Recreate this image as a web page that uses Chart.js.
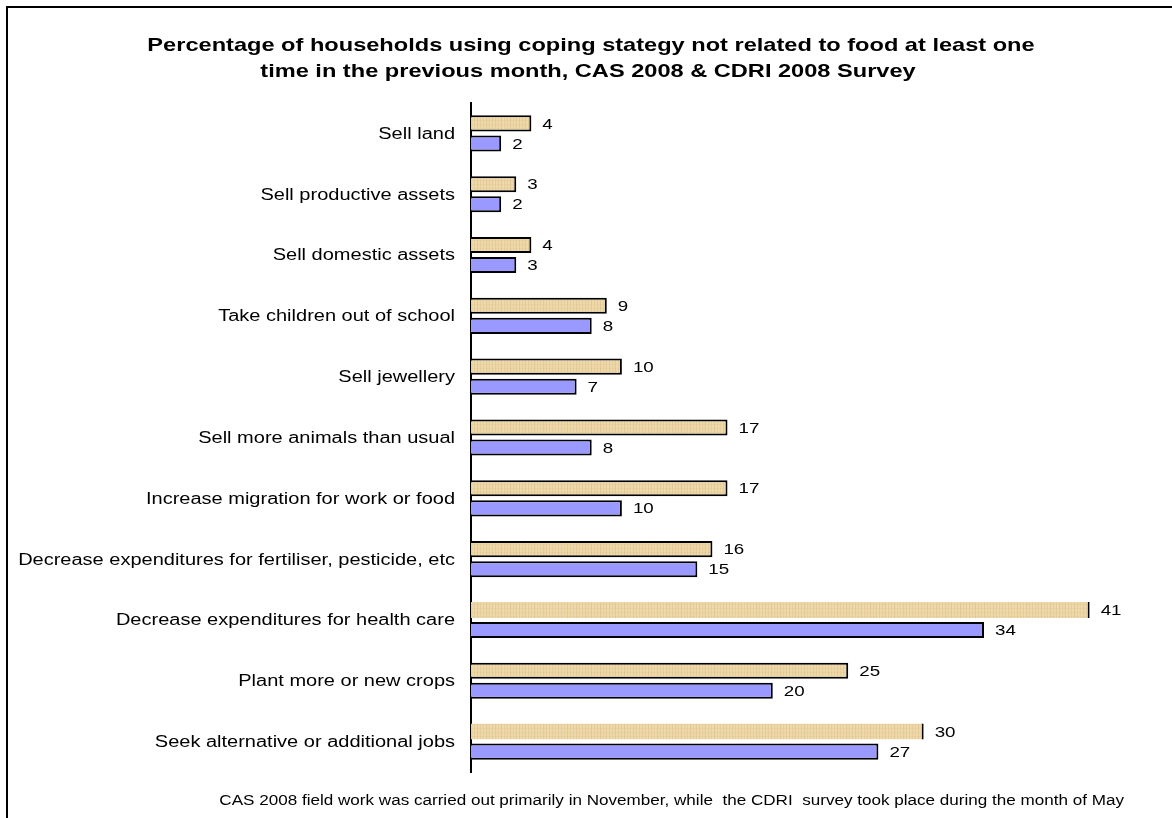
<!DOCTYPE html>
<html>
<head>
<meta charset="utf-8">
<script src="https://cdn.jsdelivr.net/npm/chart.js@4"></script>
<style>
    html, body { margin: 0; padding: 0; background: #fff; overflow: hidden; }
    #frame {
        position: absolute; left: 6px; top: 6px; width: 1300px; height: 900px;
        border-left: 2px solid #000; border-top: 2px solid #000;
    }
    #wrap { position: absolute; left: 0; top: 0; width: 1172px; height: 818px; }
</style>
</head>
<body>
<div id="frame"></div>
<div id="wrap"><canvas id="copingChart" width="1172" height="818"></canvas></div>
<script>
const categories = [
    "Sell land",
    "Sell productive assets",
    "Sell domestic assets",
    "Take children out of school",
    "Sell jewellery",
    "Sell more animals than usual",
    "Increase migration for work or food",
    "Decrease expenditures for fertiliser, pesticide, etc",
    "Decrease expenditures for health care",
    "Plant more or new crops",
    "Seek alternative or additional jobs"
];
const cas2008 = [4, 3, 4, 9, 10, 17, 17, 16, 41, 25, 30];
const cdri2008 = [2, 2, 3, 8, 7, 8, 10, 15, 34, 20, 27];
const titleLines = [
    "Percentage of households using coping stategy not related to food at least one",
    "time in the previous month, CAS 2008 & CDRI 2008 Survey"
];
const footNote = "CAS 2008 field work was carried out primarily in November, while  the CDRI  survey took place during the month of May";

const FONT = "'Liberation Sans', Arial, sans-serif";

// the text in this chart is set wide: draw it squeezed vertically relative to width
function wideText(ctx, text, x, y, align, sx) {
    ctx.save();
    ctx.translate(x, y);
    ctx.scale(sx, 1);
    ctx.textAlign = align;
    ctx.fillText(text, 0, 0);
    ctx.restore();
}

// straw-coloured fill with faint vertical streaks
function strawPattern(ctx) {
    const c = document.createElement('canvas');
    c.width = 90; c.height = 16;
    const p = c.getContext('2d');
    p.fillStyle = '#ecd5a3';
    p.fillRect(0, 0, c.width, c.height);
    for (let x = 0; x < c.width; x++) {
        const a = 0.08 + 0.1 * Math.abs(Math.sin(x * 1.7) * Math.cos(x * 0.37));
        p.fillStyle = x % 3 === 0 ? `rgba(185,150,95,${a})` : `rgba(255,245,220,${a})`;
        p.fillRect(x, 0, 1, c.height);
    }
    for (let y = 0; y < c.height; y += 4) {
        p.fillStyle = 'rgba(200,165,105,0.10)';
        p.fillRect(0, y, c.width, 1);
    }
    return ctx.createPattern(c, 'repeat');
}

const textLayer = {
    id: 'textLayer',
    afterDraw(chart) {
        const ctx = chart.ctx;
        const yScale = chart.scales.y;
        ctx.save();
        ctx.fillStyle = '#000';
        ctx.textBaseline = 'middle';

        // title
        ctx.font = `bold 18.5px ${FONT}`;
        wideText(ctx, titleLines[0], 591, 46, 'center', 1.275);
        wideText(ctx, titleLines[1], 588, 72, 'center', 1.275);

        // category labels
        ctx.font = `16px ${FONT}`;
        categories.forEach((cat, i) => {
            wideText(ctx, cat, yScale.right - 16, yScale.getPixelForValue(i) + 1, 'right', 1.25);
        });

        // value labels at the end of each bar
        ctx.font = `15px ${FONT}`;
        chart.data.datasets.forEach((ds, i) => {
            chart.getDatasetMeta(i).data.forEach((bar, j) => {
                wideText(ctx, String(ds.data[j]), bar.x + 11, bar.y + 1, 'left', 1.25);
            });
        });

        // note under the chart
        ctx.font = `14px ${FONT}`;
        wideText(ctx, footNote, 1124, 801, 'right', 1.22);
        ctx.restore();
    }
};

const canvas = document.getElementById('copingChart');
const ctx = canvas.getContext('2d');

new Chart(ctx, {
    type: 'bar',
    data: {
        labels: categories,
        datasets: [
            {
                label: 'CAS 2008',
                data: cas2008,
                backgroundColor: strawPattern(ctx),
                borderColor: '#000',
                borderWidth: c => c.raw >= 30 ? { top: 0, bottom: 0, left: 0, right: 2 } : 2,
                borderSkipped: 'start'
            },
            {
                label: 'CDRI 2008',
                data: cdri2008,
                backgroundColor: '#9999ff',
                borderColor: '#000',
                borderWidth: 2,
                borderSkipped: 'start'
            }
        ]
    },
    options: {
        indexAxis: 'y',
        responsive: false,
        animation: false,
        categoryPercentage: 0.66,
        barPercentage: 0.8,
        layout: { padding: { left: 0, right: 22, top: 103, bottom: 46 } },
        plugins: {
            legend: { display: false },
            tooltip: { enabled: false },
            title: { display: false }
        },
        scales: {
            x: { display: false, min: 0, max: 45 },
            y: {
                grid: { display: false, drawTicks: false },
                border: { display: true, color: '#000', width: 2 },
                ticks: { display: false },
                afterFit(scale) { scale.width = 471; }
            }
        }
    },
    plugins: [textLayer]
});
</script>
</body>
</html>
